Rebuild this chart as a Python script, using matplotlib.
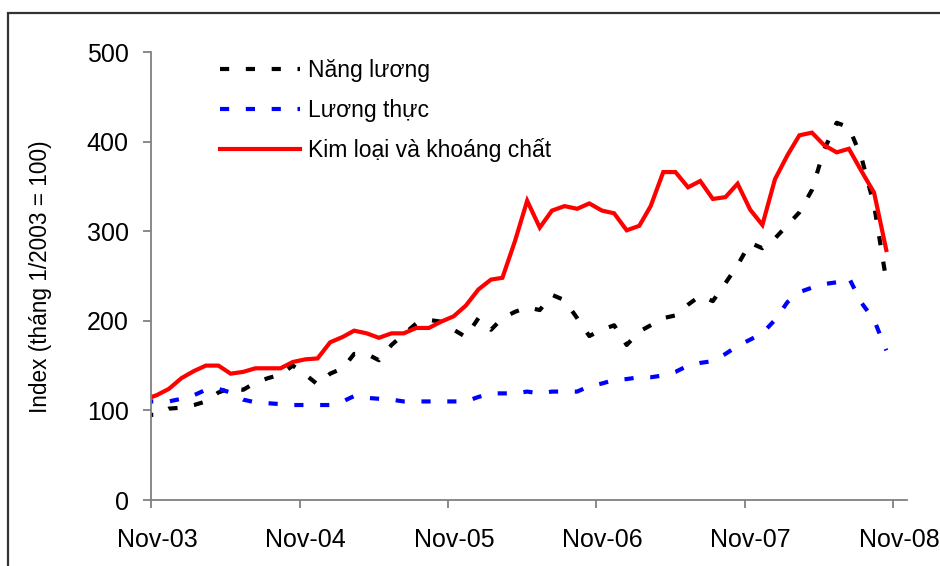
import matplotlib
matplotlib.use("Agg")
import matplotlib.pyplot as plt
import matplotlib.dates as mdates
import matplotlib.transforms as mtransforms
from matplotlib.patches import Rectangle
import pandas as pd

plt.rcParams['font.family'] = ['Liberation Sans', 'DejaVu Sans']

# Monthly observations (mid-month), Oct-2003 .. Oct-2008
months = pd.date_range(start="2003-10-01", periods=61, freq="MS") + pd.Timedelta(days=14)

energy = [95, 95, 102, 103, 106, 110, 120, 125, 123, 131, 136, 140, 150,
          140, 129, 141, 147, 163, 163, 156, 173, 185, 197, 201, 199,
          190, 182, 203, 190, 203, 210, 215, 212, 229, 223, 203, 183,
          190, 195, 173, 188, 195, 203, 206, 218, 228, 222, 242, 262,
          287, 281, 292, 307, 321, 346, 391, 421, 416, 382, 329, 245]

food = [110, 110, 110, 113, 117, 123, 124, 120, 112, 109, 108, 107, 106,
        106, 106, 106, 110, 116, 114, 113, 112, 110, 110, 110, 110,
        110, 110, 115, 119, 119, 119, 121, 119, 121, 121, 121, 127,
        130, 134, 135, 137, 137, 139, 143, 150, 153, 155, 163, 172,
        179, 186, 201, 221, 232, 237, 241, 243, 248, 220, 201, 167]

metals = [112, 117, 124, 136, 144, 150, 150, 141, 143, 147, 147, 147, 154,
          157, 158, 176, 182, 189, 186, 181, 186, 186, 192, 192, 199,
          205, 217, 235, 246, 248, 289, 334, 304, 323, 328, 325, 331,
          323, 320, 301, 306, 328, 366, 366, 349, 356, 336, 338, 353,
          324, 307, 358, 385, 407, 410, 396, 388, 392, 367, 343, 279]

series_labels = ["Năng lương", "Lương thực", "Kim loại và khoáng chất"]
tick_dates = pd.to_datetime(["2003-11-01", "2004-11-01", "2005-11-01",
                             "2006-11-01", "2007-11-01", "2008-11-01"])
tick_labels = ["Nov-03", "Nov-04", "Nov-05", "Nov-06", "Nov-07", "Nov-08"]
y_ticks = [0, 100, 200, 300, 400, 500]
y_label = "Index (tháng 1/2003 = 100)"

W, H = 940, 566
fig = plt.figure(figsize=(W / 100, H / 100), dpi=100)
fig.patch.set_facecolor("white")

ax = fig.add_axes([151 / W, 1 - 500 / H, (907 - 151) / W, (500 - 52) / H])

lw = 3.0
ax.plot(months, energy, color="black", lw=lw, dashes=(2.2, 4.0),
        dash_capstyle="butt", label=series_labels[0], clip_on=True)
ax.plot(months, food, color="#0000FF", lw=lw, dashes=(2.2, 4.0),
        dash_capstyle="butt", label=series_labels[1], clip_on=True)
ax.plot(months, metals, color="#FF0000", lw=lw, solid_joinstyle="miter",
        label=series_labels[2], clip_on=True)

ax.set_xlim(pd.Timestamp("2003-11-01"), pd.Timestamp("2008-12-05"))
ax.set_ylim(0, 500)

for s in ["top", "right"]:
    ax.spines[s].set_visible(False)
for s in ["left", "bottom"]:
    ax.spines[s].set_color("#808080")
    ax.spines[s].set_linewidth(1.3)

ax.set_yticks(y_ticks)
ax.set_yticklabels([str(v) for v in y_ticks])
ax.set_xticks(tick_dates)
ax.set_xticklabels(tick_labels)
ax.tick_params(axis="both", direction="out", length=6, width=1.3,
               color="#808080", labelsize=18, labelcolor="black")
ax.tick_params(axis="y", pad=10)
ax.tick_params(axis="x", pad=14.5)

offset = mtransforms.ScaledTranslation(6 / 100, 0, fig.dpi_scale_trans)
for lbl in ax.get_xticklabels():
    lbl.set_transform(lbl.get_transform() + offset)

ax.set_ylabel(y_label, fontsize=16.3)
ax.yaxis.set_label_coords(52 / W, 1 - 277 / H, transform=fig.transFigure)

leg = ax.legend(loc="upper left", bbox_to_anchor=(220 / W, 1 - 59 / H),
                bbox_transform=fig.transFigure, frameon=False,
                fontsize=16.5, handlelength=3.5, handletextpad=0.35,
                labelspacing=0.73, borderpad=0, borderaxespad=0)

fig.patches.append(Rectangle((8 / W, -0.05), 1.1, 1 - 13 / H + 0.05,
                             transform=fig.transFigure, fill=False,
                             edgecolor="#333333", lw=1.6))

fig.savefig("out.png", dpi=100)
